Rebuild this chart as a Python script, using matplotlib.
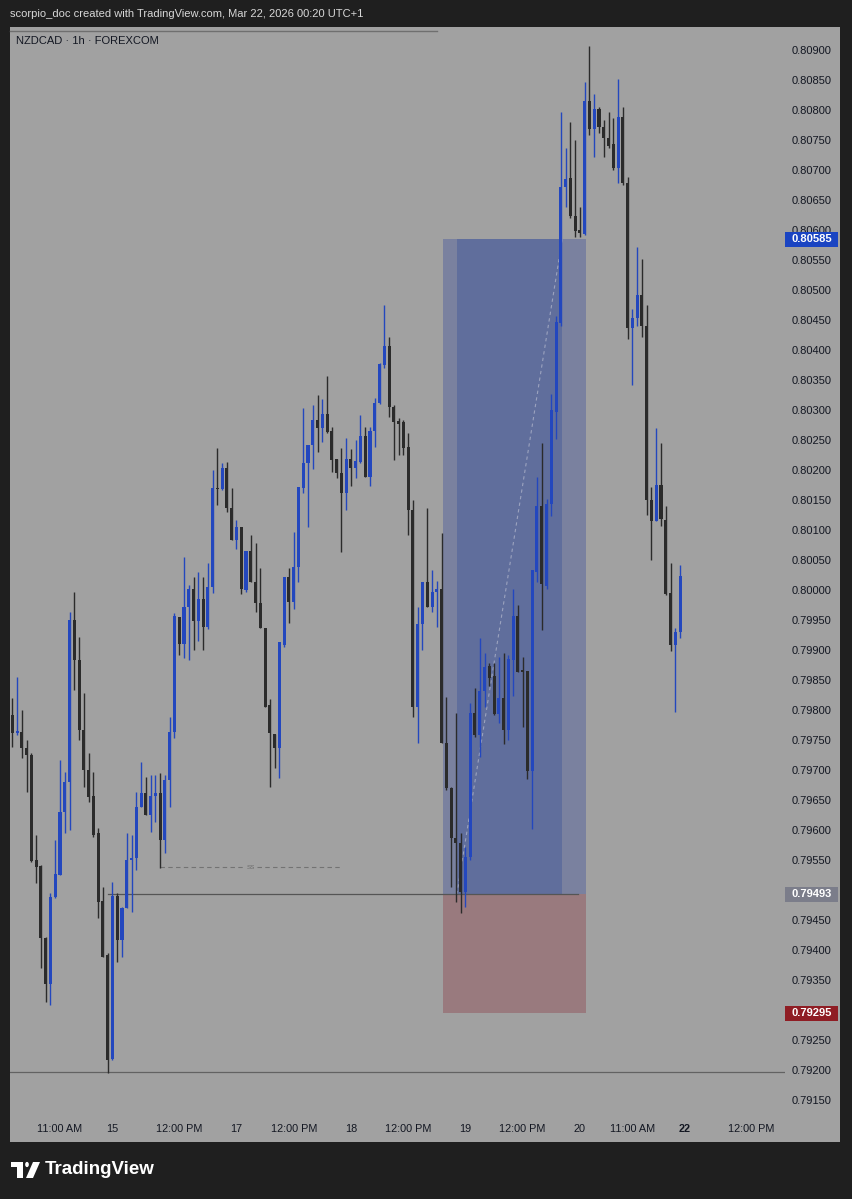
import numpy as np
import matplotlib
matplotlib.use("Agg")
import matplotlib.pyplot as plt
from matplotlib.patches import Rectangle, Polygon, Circle
import matplotlib.transforms as mtransforms

W, H = 852, 1199

# --- NZDCAD 1h candles ---
opens = [0.79792, 0.79762, 0.79763, 0.79737, 0.79725, 0.79550, 0.79540, 0.79420, 0.79343, 0.79488,
         0.79525, 0.79630, 0.79680, 0.79950, 0.79883, 0.79767, 0.79700, 0.79657, 0.79595, 0.79482,
         0.79392, 0.79218, 0.79490, 0.79417, 0.79470, 0.79550, 0.79553, 0.79638, 0.79662, 0.79625,
         0.79657, 0.79662, 0.79583, 0.79683, 0.79763, 0.79955, 0.79910, 0.79972, 0.80002, 0.79948,
         0.79985, 0.79938, 0.80005, 0.80170, 0.80168, 0.80203, 0.80137, 0.80083, 0.80105, 0.80000,
         0.80065, 0.80013, 0.79978, 0.79937, 0.79808, 0.79760, 0.79737, 0.79908, 0.80022, 0.79980,
         0.80038, 0.80170, 0.80212, 0.80242, 0.80283, 0.80270, 0.80293, 0.80265, 0.80218, 0.80195,
         0.80162, 0.80218, 0.80203, 0.80213, 0.80257, 0.80188, 0.80265, 0.80312, 0.80375, 0.80407,
         0.80305, 0.80282, 0.80280, 0.80238, 0.80133, 0.79805, 0.79943, 0.80013, 0.79972, 0.79997,
         0.80002, 0.79745, 0.79670, 0.79587, 0.79578, 0.79497, 0.79555, 0.79795, 0.79758, 0.79832,
         0.79873, 0.79857, 0.79793, 0.79820, 0.79767, 0.79883, 0.79957, 0.79867, 0.79865, 0.79698,
         0.80030, 0.80140, 0.80007, 0.80143, 0.80297, 0.80445, 0.80672, 0.80687, 0.80623, 0.80600,
         0.80593, 0.80815, 0.80768, 0.80802, 0.80772, 0.80753, 0.80743, 0.80703, 0.80788, 0.80678,
         0.80437, 0.80453, 0.80492, 0.80440, 0.80150, 0.80115, 0.80175, 0.80117, 0.79995, 0.79908,
         0.79930]
highs = [0.79820, 0.79855, 0.79800, 0.79750, 0.79728, 0.79592, 0.79542, 0.79422, 0.79495, 0.79583,
         0.79717, 0.79697, 0.79963, 0.79997, 0.79922, 0.79828, 0.79728, 0.79697, 0.79603, 0.79505,
         0.79395, 0.79513, 0.79495, 0.79472, 0.79595, 0.79592, 0.79663, 0.79713, 0.79688, 0.79692,
         0.79692, 0.79695, 0.79692, 0.79788, 0.79962, 0.79955, 0.80055, 0.80008, 0.80022, 0.80030,
         0.80022, 0.80045, 0.80200, 0.80237, 0.80212, 0.80213, 0.80170, 0.80117, 0.80105, 0.80065,
         0.80092, 0.80078, 0.80037, 0.79937, 0.79818, 0.79760, 0.79913, 0.80022, 0.80037, 0.80097,
         0.80172, 0.80303, 0.80242, 0.80308, 0.80325, 0.80318, 0.80357, 0.80272, 0.80218, 0.80237,
         0.80253, 0.80235, 0.80250, 0.80292, 0.80272, 0.80272, 0.80320, 0.80378, 0.80475, 0.80422,
         0.80308, 0.80287, 0.80283, 0.80262, 0.80150, 0.79972, 0.80013, 0.80137, 0.80033, 0.80015,
         0.80095, 0.79822, 0.79672, 0.79795, 0.79595, 0.79572, 0.79812, 0.79837, 0.79920, 0.79895,
         0.79878, 0.79878, 0.79888, 0.79895, 0.79892, 0.80002, 0.79975, 0.79888, 0.79865, 0.80033,
         0.80188, 0.80245, 0.80152, 0.80327, 0.80457, 0.80797, 0.80737, 0.80780, 0.80750, 0.80638,
         0.80847, 0.80907, 0.80827, 0.80805, 0.80783, 0.80797, 0.80787, 0.80852, 0.80805, 0.80688,
         0.80468, 0.80572, 0.80552, 0.80475, 0.80172, 0.80270, 0.80245, 0.80140, 0.80045, 0.79937,
         0.80042]
lows = [0.79738, 0.79758, 0.79720, 0.79663, 0.79547, 0.79512, 0.79370, 0.79313, 0.79308, 0.79487,
        0.79525, 0.79595, 0.79600, 0.79833, 0.79750, 0.79672, 0.79647, 0.79588, 0.79453, 0.79388,
        0.79195, 0.79217, 0.79380, 0.79388, 0.79470, 0.79463, 0.79533, 0.79638, 0.79625, 0.79597,
        0.79613, 0.79537, 0.79562, 0.79638, 0.79753, 0.79892, 0.79887, 0.79883, 0.79900, 0.79915,
        0.79900, 0.79935, 0.79995, 0.80142, 0.80167, 0.80130, 0.80083, 0.80068, 0.79993, 0.79997,
        0.80013, 0.79963, 0.79937, 0.79805, 0.79672, 0.79703, 0.79687, 0.79905, 0.79945, 0.79968,
        0.80013, 0.80162, 0.80105, 0.80202, 0.80230, 0.80247, 0.80262, 0.80197, 0.80187, 0.80063,
        0.80133, 0.80173, 0.80187, 0.80212, 0.80188, 0.80173, 0.80238, 0.80310, 0.80370, 0.80288,
        0.80217, 0.80225, 0.80225, 0.80092, 0.79788, 0.79745, 0.79900, 0.79972, 0.79963, 0.79938,
        0.79745, 0.79667, 0.79505, 0.79480, 0.79462, 0.79472, 0.79550, 0.79755, 0.79722, 0.79805,
        0.79840, 0.79792, 0.79778, 0.79743, 0.79750, 0.79823, 0.79863, 0.79772, 0.79685, 0.79602,
        0.80013, 0.79933, 0.80002, 0.80123, 0.80252, 0.80440, 0.80638, 0.80620, 0.80588, 0.80588,
        0.80592, 0.80758, 0.80722, 0.80762, 0.80722, 0.80737, 0.80700, 0.80678, 0.80675, 0.80418,
        0.80342, 0.80440, 0.80422, 0.80125, 0.80050, 0.80115, 0.80107, 0.79992, 0.79898, 0.79797,
        0.79920]
closes = [0.79762, 0.79765, 0.79737, 0.79725, 0.79548, 0.79538, 0.79420, 0.79343, 0.79488, 0.79527,
          0.79630, 0.79680, 0.79950, 0.79883, 0.79767, 0.79700, 0.79655, 0.79592, 0.79480, 0.79388,
          0.79217, 0.79490, 0.79417, 0.79470, 0.79550, 0.79553, 0.79638, 0.79662, 0.79625, 0.79657,
          0.79662, 0.79583, 0.79683, 0.79763, 0.79957, 0.79910, 0.79972, 0.80002, 0.79948, 0.79985,
          0.79938, 0.80005, 0.80170, 0.80168, 0.80203, 0.80137, 0.80083, 0.80105, 0.80002, 0.80065,
          0.80013, 0.79978, 0.79937, 0.79805, 0.79762, 0.79737, 0.79913, 0.80022, 0.79980, 0.80038,
          0.80172, 0.80212, 0.80242, 0.80283, 0.80270, 0.80293, 0.80263, 0.80217, 0.80195, 0.80162,
          0.80218, 0.80203, 0.80215, 0.80257, 0.80188, 0.80265, 0.80312, 0.80377, 0.80407, 0.80305,
          0.80280, 0.80277, 0.80237, 0.80133, 0.79805, 0.79943, 0.80013, 0.79972, 0.79997, 0.80002,
          0.79745, 0.79670, 0.79587, 0.79578, 0.79497, 0.79555, 0.79795, 0.79758, 0.79832, 0.79872,
          0.79853, 0.79793, 0.79820, 0.79767, 0.79885, 0.79957, 0.79863, 0.79863, 0.79698, 0.80033,
          0.80140, 0.80010, 0.80143, 0.80300, 0.80447, 0.80672, 0.80685, 0.80623, 0.80598, 0.80595,
          0.80815, 0.80768, 0.80802, 0.80772, 0.80753, 0.80740, 0.80703, 0.80788, 0.80678, 0.80437,
          0.80453, 0.80492, 0.80440, 0.80150, 0.80115, 0.80175, 0.80118, 0.79993, 0.79908, 0.79930,
          0.80023]

# time axis labels (bar index -> label)
time_ticks = [10, 21, 35, 47, 59, 71, 83, 95, 107, 119, 130, 141, 155]
time_labels = ["11:00 AM", "15", "12:00 PM", "17", "12:00 PM", "18", "12:00 PM",
               "19", "12:00 PM", "20", "11:00 AM", "22", "12:00 PM"]

# long position tool
entry_price = 0.79493
target_price = 0.80585
stop_price = 0.79295
pos_start, pos_end = 90.2, 120.3
trade_start, trade_end = 93.2, 115.3

low_line = 0.79197          # horizontal line at the swing low
ss_price = 0.79538          # "SS" dashed level
ss_start, ss_end = 31, 68.7

GRAY = "#a1a1a1"
DARK_BG = "#1f1f1f"
TXT = "#131722"
BULL = "#2347be"
BEAR = "#2b2b2b"


def fx(px):
    return px / W


def fy(py):
    return 1 - py / H


plt.rcParams["font.family"] = ["Liberation Sans", "DejaVu Sans"]

fig = plt.figure(figsize=(W / 100, H / 100), dpi=100, facecolor=DARK_BG)

# chart panel
fig.add_artist(Rectangle((fx(10), fy(1142)), fx(830), (1142 - 27) / H,
                         transform=fig.transFigure, facecolor=GRAY, edgecolor="none", zorder=-1))

ax = fig.add_axes([fx(10), fy(1110), fx(775), 1080 / H])
ax.set_facecolor("none")
for s in ax.spines.values():
    s.set_visible(False)

o = np.array(opens)
h = np.array(highs)
l = np.array(lows)
c = np.array(closes)
x = np.arange(len(o))
up = c >= o
cols = np.where(up, BULL, BEAR)

ax.vlines(x, l, h, colors=cols, linewidth=1.0, zorder=3)
body_low = np.minimum(o, c)
body_h = np.maximum(np.abs(c - o), 0.000022)
ax.bar(x, body_h, bottom=body_low, width=0.64, color=cols, edgecolor="none", zorder=4)

# position zones
ax.add_patch(Rectangle((pos_start, entry_price), pos_end - pos_start, target_price - entry_price,
                       facecolor="#7a819f", edgecolor="none", zorder=1))
ax.add_patch(Rectangle((trade_start, entry_price), trade_end - trade_start, target_price - entry_price,
                       facecolor="#606e9c", edgecolor="none", zorder=1.1))
ax.add_patch(Rectangle((pos_start, stop_price), pos_end - pos_start, entry_price - stop_price,
                       facecolor="#997a7e", edgecolor="none", zorder=1))
ax.plot([trade_start, trade_end], [entry_price, target_price], color="#c3c6d6",
        lw=0.8, dashes=(3, 3), alpha=0.6, zorder=1.5)

# horizontal lines
ax.plot([20, 118.5], [entry_price, entry_price], color="#555555", lw=0.9, zorder=2)
ax.axhline(low_line, color="#626262", lw=0.9, zorder=2)
ss_mid = 50
ax.plot([ss_start, ss_mid - 1.2], [ss_price, ss_price], color="#737373", lw=0.8, dashes=(4, 3), zorder=2)
ax.plot([ss_mid + 1.2, ss_end], [ss_price, ss_price], color="#737373", lw=0.8, dashes=(4, 3), zorder=2)
ax.text(ss_mid, ss_price, "SS", fontsize=4.5, color="#6a6a6a", ha="center", va="center", zorder=2)

ax.set_xlim(-0.48, 162.0)
ax.set_ylim(0.809 - 1060 / 60000, 0.809 + 20 / 60000)

# price axis (labels hidden where the position tool labels sit)
ax.yaxis.tick_right()
yt = np.arange(0.79150, 0.80901, 0.0005)
hidden = [0.79500, 0.79300]
ax.set_yticks(yt)
ax.set_yticklabels(["" if any(abs(v - hv) < 1e-7 for hv in hidden) else f"{v:.5f}" for v in yt])
ax.tick_params(axis="y", length=0, pad=5, labelsize=8, labelcolor=TXT)

ax.set_xticks(time_ticks)
ax.set_xticklabels(time_labels)
ax.tick_params(axis="x", length=0, pad=10, labelsize=7.8, labelcolor=TXT)
for lab in ax.get_xticklabels():
    if lab.get_text() == "22":
        lab.set_fontweight("bold")

# price labels on the scale
trans = mtransforms.blended_transform_factory(ax.transAxes, ax.transData)
half = 7.5 / 60000
for price, col in [(target_price, "#1a44c2"), (entry_price, "#7b7d8a"), (stop_price, "#8f1d24")]:
    ax.add_patch(Rectangle((1.0, price - half), 53 / 775, 2 * half, transform=trans,
                           facecolor=col, edgecolor="none", clip_on=False, zorder=6))
    ax.text(1.0 + 26.5 / 775, price, f"{price:.5f}", transform=trans, color="white",
            fontsize=8, fontweight="bold", ha="center", va="center", clip_on=False, zorder=7)

# header
fig.text(fx(10), fy(14), "scorpio_doc created with TradingView.com, Mar 22, 2026 00:20 UTC+1",
         color="#d8d8d8", fontsize=8, ha="left", va="center")
fig.add_artist(plt.Line2D([fx(10), fx(437)], [fy(31), fy(31)], transform=fig.transFigure,
                          color="#6f6f6f", lw=1))
fig.text(fx(16), fy(41), "NZDCAD · 1h · FOREXCOM", color=TXT, fontsize=8, ha="left", va="center")

# TradingView logo
logo = "white"
fig.add_artist(Polygon([(fx(11), fy(1162)), (fx(23), fy(1162)), (fx(23), fy(1178)),
                        (fx(17), fy(1178)), (fx(17), fy(1167)), (fx(11), fy(1167))],
                       closed=True, transform=fig.transFigure, facecolor=logo, edgecolor="none"))
fig.add_artist(Circle((fx(27), fy(1164.5)), 2.6 / H, transform=fig.transFigure,
                      facecolor=logo, edgecolor="none"))
fig.add_artist(Polygon([(fx(33), fy(1162)), (fx(40), fy(1162)), (fx(33), fy(1178)), (fx(26), fy(1178))],
                       closed=True, transform=fig.transFigure, facecolor=logo, edgecolor="none"))
fig.text(fx(45), fy(1170), "TradingView", color="white", fontsize=13.5, fontweight="bold",
         ha="left", va="center")

fig.savefig("out.png", dpi=100, facecolor=DARK_BG)
